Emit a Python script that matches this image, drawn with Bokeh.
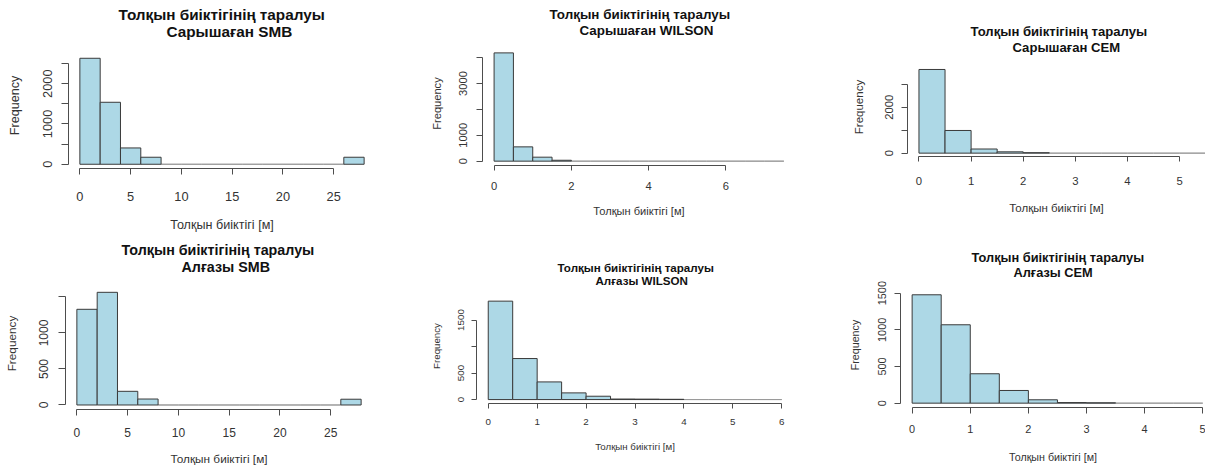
from bokeh.plotting import figure
from bokeh.models import FixedTicker, Title, ColumnDataSource, Range1d
from bokeh.layouts import column, row
from bokeh.embed import file_html
from bokeh.resources import INLINE

# ---------------- data ----------------
MAIN_TITLE = "Толқын биіктігінің таралуы"
X_LABEL = "Толқын биіктігі [м]"
Y_LABEL = "Frequency"

sub_titles = ["Сарышаған SMB", "Сарышаған WILSON", "Сарышаған CEM",
              "Алғазы SMB", "Алғазы WILSON", "Алғазы CEM"]

breaks_sary_smb = [0, 2, 4, 6, 8, 10, 12, 14, 16, 18, 20, 22, 24, 26, 28]
breaks_sary_wilson = [0, 0.5, 1, 1.5, 2, 2.5, 3, 3.5, 4, 4.5, 5, 5.5, 6, 6.5, 7, 7.5]
breaks_sary_cem = [0, 0.5, 1, 1.5, 2, 2.5, 3, 3.5, 4, 4.5, 5, 5.5]
breaks_alg_smb = [0, 2, 4, 6, 8, 10, 12, 14, 16, 18, 20, 22, 24, 26, 28]
breaks_alg_wilson = [0, 0.5, 1, 1.5, 2, 2.5, 3, 3.5, 4, 4.5, 5, 5.5, 6]
breaks_alg_cem = [0, 0.5, 1, 1.5, 2, 2.5, 3, 3.5, 4, 4.5, 5]

counts_sary_smb = [2630, 1538, 405, 174, 0, 0, 0, 0, 0, 0, 0, 0, 0, 174]
counts_sary_wilson = [4181, 552, 154, 35, 0, 0, 0, 0, 0, 0, 0, 0, 0, 0, 0]
counts_sary_cem = [3638, 986, 180, 57, 20, 0, 0, 0, 0, 0, 0]
counts_alg_smb = [1329, 1565, 190, 83, 0, 0, 0, 0, 0, 0, 0, 0, 0, 80]
counts_alg_wilson = [1857, 774, 333, 126, 63, 10, 8, 5, 0, 0, 0, 0]
counts_alg_cem = [1478, 1069, 401, 173, 46, 8, 5, 0, 0, 0]

xticks_sary_smb = [0, 5, 10, 15, 20, 25]
xticks_sary_wilson = [0, 2, 4, 6]
xticks_sary_cem = [0, 1, 2, 3, 4, 5]
xticks_alg_smb = [0, 5, 10, 15, 20, 25]
xticks_alg_wilson = [0, 1, 2, 3, 4, 5, 6]
xticks_alg_cem = [0, 1, 2, 3, 4, 5]

yticks_sary_smb = [0, 500, 1000, 1500, 2000, 2500]
ylabels_sary_smb = ["0", "", "1000", "", "2000", ""]
yticks_sary_wilson = [0, 1000, 2000, 3000, 4000]
ylabels_sary_wilson = ["0", "1000", "", "3000", ""]
yticks_sary_cem = [0, 1000, 2000, 3000]
ylabels_sary_cem = ["0", "", "2000", ""]
yticks_alg_smb = [0, 500, 1000, 1500]
ylabels_alg_smb = ["0", "500", "1000", ""]
yticks_alg_wilson = [0, 500, 1000, 1500]
ylabels_alg_wilson = ["0", "500", "", "1500"]
yticks_alg_cem = [0, 500, 1000, 1500]
ylabels_alg_cem = ["0", "500", "1000", "1500"]

panels_data = [
    (breaks_sary_smb, counts_sary_smb, xticks_sary_smb, yticks_sary_smb, ylabels_sary_smb),
    (breaks_sary_wilson, counts_sary_wilson, xticks_sary_wilson, yticks_sary_wilson, ylabels_sary_wilson),
    (breaks_sary_cem, counts_sary_cem, xticks_sary_cem, yticks_sary_cem, ylabels_sary_cem),
    (breaks_alg_smb, counts_alg_smb, xticks_alg_smb, yticks_alg_smb, ylabels_alg_smb),
    (breaks_alg_wilson, counts_alg_wilson, xticks_alg_wilson, yticks_alg_wilson, ylabels_alg_wilson),
    (breaks_alg_cem, counts_alg_cem, xticks_alg_cem, yticks_alg_cem, ylabels_alg_cem),
]

# ---------------- layout / style ----------------
FONT = "Liberation Sans"
FILL = "#ADD8E6"
BAR_LINE = "#3a3a3a"
ZERO_LINE = "#9a9a9a"
AXIS_COL = "#4d4d4d"
TEXT_COL = "#333333"
TITLE_COL = "#111111"

styles = [
    dict(w=400, h=235, bl=68, br=25, bt=42, bb=67, xs=None, ys=0.0403,
         ft=15.3, fk=12.8, fl=12.6, tx=6, ty=7, D1=30.3, D2=59.2, E1=23.5, E2=55.5,
         off1=50, off2=98, s2=1),
    dict(w=400, h=235, bl=82, br=5, bt=41, bb=70, xs=None, ys=0.0259,
         ft=13.4, fk=11.2, fl=11.1, tx=5, ty=6, D1=22, D2=47.2, E1=21, E2=47,
         off1=67, off2=97, s2=3),
    dict(w=405, h=235, bl=107, br=0, bt=57, bb=79, xs=52.13, ys=0.023,
         ft=13.1, fk=11.3, fl=11.5, tx=5, ty=6, D1=26, D2=54.3, E1=20.5, E2=50,
         off1=63, off2=105, s2=2),
    dict(w=400, h=235, bl=65, br=28, bt=42, bb=61, xs=None, ys=0.072,
         ft=14.3, fk=12.0, fl=11.8, tx=6, ty=7, D1=25, D2=51.3, E1=23.5, E2=53.5,
         off1=56, off2=116, s2=2),
    dict(w=400, h=235, bl=76, br=7, bt=53, bb=67, xs=None, ys=0.053,
         ft=11.6, fk=9.8, fl=9.7, tx=5, ty=5, D1=20, D2=45.2, E1=18, E2=41.5,
         off1=81, off2=119, s2=0),
    dict(w=405, h=235, bl=100, br=0, bt=47, bb=63, xs=58.13, ys=0.07333,
         ft=12.8, fk=10.9, fl=10.7, tx=6, ty=6, D1=22.7, D2=51, E1=20, E2=46,
         off1=71, off2=113, s2=1),
]


def make_panel(idx):
    breaks, counts, xticks, yticks, ylabels = panels_data[idx]
    st = styles[idx]
    fw = st["w"] - st["bl"] - st["br"]
    fh = st["h"] - st["bt"] - st["bb"]
    span = breaks[-1] - breaks[0]
    x0 = breaks[0] - 0.04 * span
    x1 = breaks[-1] + 0.04 * span if st["xs"] is None else x0 + fw / st["xs"]
    y0 = -0.04 * max(counts)
    y1 = y0 + fh / st["ys"]

    p = figure(width=st["w"], height=st["h"], output_backend="svg",
               toolbar_location=None, x_range=Range1d(x0, x1), y_range=Range1d(y0, y1),
               min_border_left=st["bl"], min_border_right=st["br"],
               min_border_top=st["bt"], min_border_bottom=st["bb"])
    p.frame_align = False
    p.outline_line_color = None
    p.grid.visible = False
    p.background_fill_color = "white"
    p.border_fill_color = "white"

    zl, zr, nl, nr, nt = [], [], [], [], []
    for a, b, c in zip(breaks[:-1], breaks[1:], counts):
        if c == 0:
            zl.append(a); zr.append(b)
        else:
            nl.append(a); nr.append(b); nt.append(c)
    zsrc = ColumnDataSource(dict(left=zl, right=zr, top=[0] * len(zl), bottom=[0] * len(zl)))
    nsrc = ColumnDataSource(dict(left=nl, right=nr, top=nt, bottom=[0] * len(nl)))
    p.quad(left="left", right="right", top="top", bottom="bottom", source=zsrc,
           fill_color=FILL, line_color=ZERO_LINE, line_width=1)
    p.quad(left="left", right="right", top="top", bottom="bottom", source=nsrc,
           fill_color=FILL, line_color=BAR_LINE, line_width=1)

    fk, fl, ft = st["fk"], st["fl"], st["ft"]

    xa = p.xaxis[0]
    xa.ticker = FixedTicker(ticks=xticks)
    xa.bounds = (xticks[0], xticks[-1])
    xa.major_label_overrides = {t: str(t) for t in xticks}
    xa.major_tick_out = st["tx"]
    xa.major_tick_in = 0
    xa.minor_tick_out = 0
    xa.minor_tick_in = 0
    xa.axis_line_color = AXIS_COL
    xa.major_tick_line_color = AXIS_COL
    xa.major_label_text_font = FONT
    xa.major_label_text_font_size = f"{fk}px"
    xa.major_label_text_color = TEXT_COL
    s1x = round(st["D1"] - st["tx"] - 0.547 * fk)
    xa.major_label_standoff = s1x
    xa.axis_label = X_LABEL
    xa.axis_label_text_font = FONT
    xa.axis_label_text_font_style = "normal"
    xa.axis_label_text_font_size = f"{fl}px"
    xa.axis_label_text_color = TEXT_COL
    xa.axis_label_standoff = round(st["D2"] - (st["tx"] + s1x + 1.117 * fk) - 0.645 * fl)

    ya = p.yaxis[0]
    ya.ticker = FixedTicker(ticks=yticks)
    ya.bounds = (yticks[0], yticks[-1])
    ya.major_label_overrides = {t: lab for t, lab in zip(yticks, ylabels)}
    ya.major_label_orientation = "vertical"
    ya.major_tick_out = st["ty"]
    ya.major_tick_in = 0
    ya.minor_tick_out = 0
    ya.minor_tick_in = 0
    ya.axis_line_color = AXIS_COL
    ya.major_tick_line_color = AXIS_COL
    ya.major_label_text_font = FONT
    ya.major_label_text_font_size = f"{fk}px"
    ya.major_label_text_color = TEXT_COL
    s1y = round(st["E1"] - st["ty"] - 0.57 * fk)
    ya.major_label_standoff = s1y
    ya.axis_label = Y_LABEL
    ya.axis_label_text_font = FONT
    ya.axis_label_text_font_style = "normal"
    ya.axis_label_text_font_size = f"{fl}px"
    ya.axis_label_text_color = TEXT_COL
    ya.axis_label_standoff = round(st["E2"] - (st["ty"] + s1y + 1.117 * fk) - 0.465 * fl)

    t2 = Title(text=sub_titles[idx], align="left", offset=st["off2"], vertical_align="top",
               standoff=st["s2"], text_font=FONT, text_font_style="bold",
               text_font_size=f"{ft}px", text_color=TITLE_COL)
    p.add_layout(t2, "above")
    t1 = Title(text=MAIN_TITLE, align="left", offset=st["off1"], vertical_align="bottom",
               standoff=0, text_font=FONT, text_font_style="bold",
               text_font_size=f"{ft}px", text_color=TITLE_COL)
    p.add_layout(t1, "above")
    return p


figs = [make_panel(i) for i in range(6)]
layout = column(row(figs[0], figs[1], figs[2]), row(figs[3], figs[4], figs[5]))

open("out.html", "w").write(file_html(layout, INLINE))
